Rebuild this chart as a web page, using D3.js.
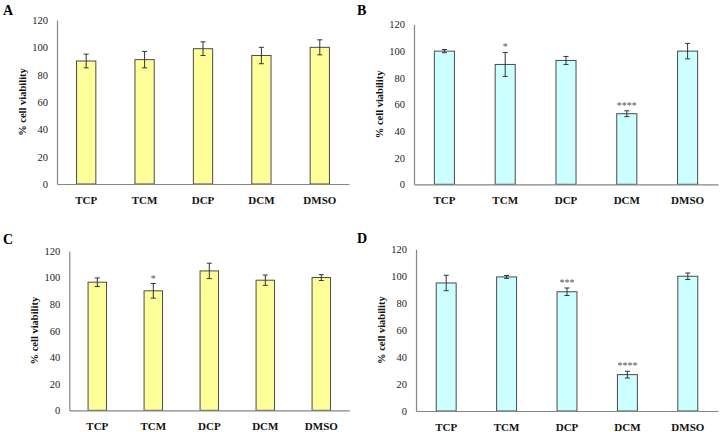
<!DOCTYPE html>
<html>
<head>
<meta charset="utf-8">
<script src="https://cdn.jsdelivr.net/npm/d3@7"></script>
<style>
  html, body { margin: 0; padding: 0; background: #fff; }
  svg { display: block; }
  svg text { font-family: "Liberation Serif", "Times New Roman", Times, serif; }
</style>
</head>
<body>
<svg id="chart" width="723" height="432"></svg>
<script>
// ---- Data ----
const categories = ["TCP", "TCM", "DCP", "DCM", "DMSO"];
const yTicks = [0, 20, 40, 60, 80, 100, 120];

const valuesA = [90, 91, 99, 94, 100];
const errorsA = [5, 6, 5, 6, 5.5];
const sigA = ["", "", "", "", ""];

const valuesB = [100, 90, 93, 53, 100];
const errorsB = [1.2, 9, 3, 2.2, 5.8];
const sigB = ["", "*", "", "****", ""];

const valuesC = [96.5, 90, 105, 98, 100];
const errorsC = [3.2, 5.5, 5.8, 3.9, 2.2];
const sigC = ["", "*", "", "", ""];

const valuesD = [95, 99.5, 88.5, 27, 100];
const errorsD = [5.7, 1.1, 2.8, 2.5, 2.4];
const sigD = ["", "", "***", "****", ""];

const panelLabels = ["A", "B", "C", "D"];
const yTitle = "% cell viability";

// ---- Layout ----
const panels = [
  { label: panelLabels[0], values: valuesA, errors: errorsA, sig: sigA, fill: "#ffff99",
    x0: 57, x1: 349, y0: 184, y1: 20, lx: 3, ly: 15 },
  { label: panelLabels[1], values: valuesB, errors: errorsB, sig: sigB, fill: "#ccffff",
    x0: 414, x1: 718, y0: 184.3, y1: 24.5, lx: 357, ly: 15 },
  { label: panelLabels[2], values: valuesC, errors: errorsC, sig: sigC, fill: "#ffff99",
    x0: 69.3, x1: 349.3, y0: 410.3, y1: 251, lx: 3, ly: 244 },
  { label: panelLabels[3], values: valuesD, errors: errorsD, sig: sigD, fill: "#ccffff",
    x0: 416, x1: 718, y0: 411, y1: 249.3, lx: 357, ly: 243 }
];

const svg = d3.select("#chart");

panels.forEach(p => {
  const g = svg.append("g");
  const x = d3.scaleBand().domain(categories).range([p.x0, p.x1])
    .paddingInner(0.67).paddingOuter(0.335);
  const y = d3.scaleLinear().domain([0, 120]).range([p.y0, p.y1]);

  // panel label
  g.append("text").attr("x", p.lx).attr("y", p.ly)
    .attr("font-weight", "bold").attr("font-size", 14)
    .attr("fill", "#000").text(p.label);

  // y axis
  const yAxis = d3.axisLeft(y).tickValues(yTicks).tickSize(0).tickPadding(9);
  const ya = g.append("g").attr("transform", `translate(${p.x0},0)`).call(yAxis);
  ya.attr("font-family", null);
  ya.select(".domain").attr("stroke", "#868686").attr("stroke-width", 1.2);
  ya.selectAll("text").attr("font-size", 10.5).attr("fill", "#222");

  // bars
  g.selectAll("rect.bar").data(categories).enter().append("rect")
    .attr("class", "bar")
    .attr("x", d => x(d))
    .attr("width", x.bandwidth())
    .attr("y", (d, i) => y(p.values[i]))
    .attr("height", (d, i) => y(0) - y(p.values[i]))
    .attr("fill", p.fill)
    .attr("stroke", "#4a4a4a")
    .attr("stroke-width", 1);

  // x axis
  const xAxis = d3.axisBottom(x).tickSize(0).tickPadding(12);
  const xa = g.append("g").attr("transform", `translate(0,${p.y0})`).call(xAxis);
  xa.attr("font-family", null);
  xa.select(".domain").attr("stroke", "#868686").attr("stroke-width", 1.2);
  xa.selectAll("text").attr("font-weight", "bold")
    .attr("font-size", 11).attr("fill", "#111");

  // error bars
  const cap = 2.5;
  categories.forEach((c, i) => {
    const cx = x(c) + x.bandwidth() / 2;
    const top = y(p.values[i] + p.errors[i]);
    const bot = y(p.values[i] - p.errors[i]);
    const eb = g.append("g").attr("stroke", "#333").attr("stroke-width", 1);
    eb.append("line").attr("x1", cx).attr("x2", cx).attr("y1", top).attr("y2", bot);
    eb.append("line").attr("x1", cx - cap).attr("x2", cx + cap).attr("y1", top).attr("y2", top);
    eb.append("line").attr("x1", cx - cap).attr("x2", cx + cap).attr("y1", bot).attr("y2", bot);
    if (p.sig[i]) {
      g.append("text").attr("x", cx).attr("y", top - 2)
        .attr("text-anchor", "middle")
        .attr("font-size", 10)
        .attr("fill", "#555").text(p.sig[i]);
    }
  });

  // y title
  const ty = (p.y0 + p.y1) / 2;
  g.append("text")
    .attr("transform", `translate(${p.x0 - 35},${ty}) rotate(-90)`)
    .attr("text-anchor", "middle")
    .attr("dominant-baseline", "central")
    .attr("font-weight", "bold").attr("font-size", 10.5)
    .attr("fill", "#111").text(yTitle);
});
</script>
</body>
</html>
